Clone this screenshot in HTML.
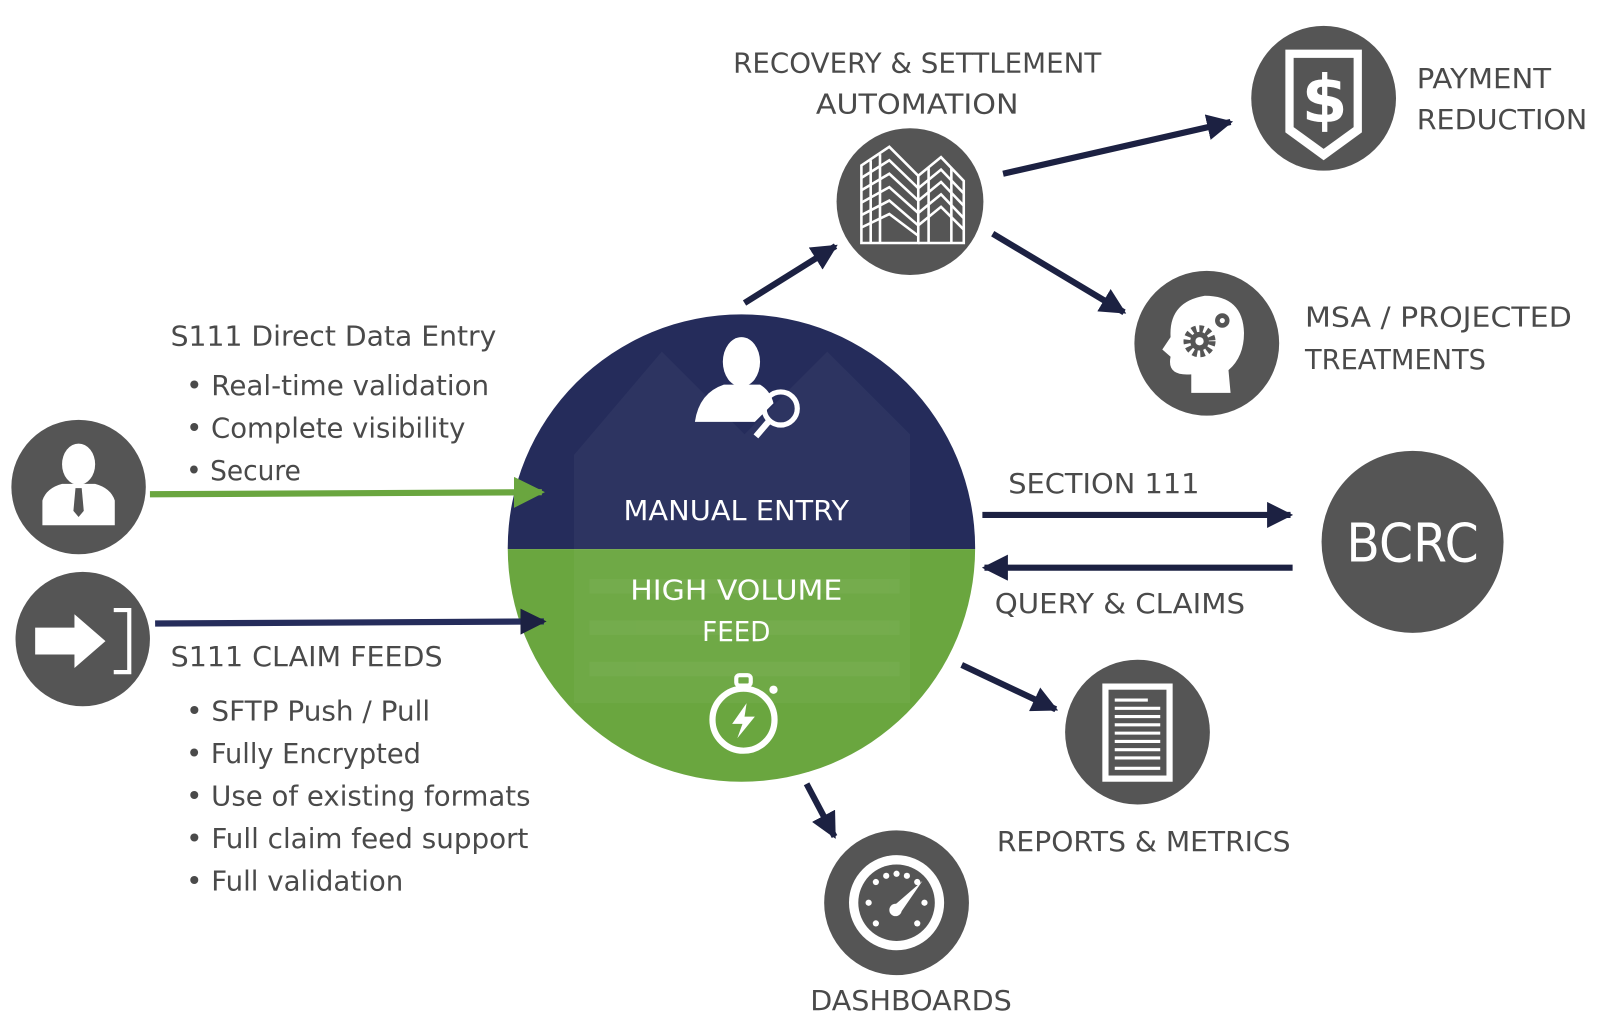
<!DOCTYPE html>
<html><head><meta charset="utf-8"><style>
html,body{margin:0;padding:0;background:#fff;}
svg{display:block}
text{font-family:"DejaVu Sans","Liberation Sans",sans-serif;fill:#4a4a4a}
</style></head><body>
<svg width="1608" height="1033" viewBox="0 0 1555 999" preserveAspectRatio="none" xmlns="http://www.w3.org/2000/svg">
<defs>
<marker id="ah" viewBox="0 0 10 10" refX="9" refY="5" markerWidth="4.2" markerHeight="4.2" orient="auto" markerUnits="strokeWidth"><path d="M0,0 L10,5 L0,10 Z" fill="#1c2142"/></marker>
<marker id="ag" viewBox="0 0 10 10" refX="9" refY="5" markerWidth="5" markerHeight="5" orient="auto" markerUnits="strokeWidth"><path d="M0,0 L10,5 L0,10 Z" fill="#6aa63f"/></marker>
<clipPath id="cc"><circle cx="717" cy="530" r="226"/></clipPath>
</defs>

<g clip-path="url(#cc)">
<rect x="480" y="300" width="480" height="231" fill="#252c5b"/>
<rect x="480" y="531" width="480" height="240" fill="#6aa63f"/>
<g fill="#ffffff" opacity="0.04">
<path d="M555,440 L640,340 L720,420 L800,340 L880,420 L880,680 L555,680 Z"/>
</g>
<g fill="#ffffff" opacity="0.04">
<rect x="570" y="560" width="300" height="14"/><rect x="570" y="600" width="300" height="14"/><rect x="570" y="640" width="300" height="14"/>
</g>
</g>
<text x="712" y="503" text-anchor="middle" font-size="27" style="fill:#fff" textLength="218" lengthAdjust="spacingAndGlyphs">MANUAL ENTRY</text>
<text x="712" y="580" text-anchor="middle" font-size="27" style="fill:#fff" textLength="205" lengthAdjust="spacingAndGlyphs">HIGH VOLUME</text>
<text x="712" y="620" text-anchor="middle" font-size="27" style="fill:#fff" textLength="66" lengthAdjust="spacingAndGlyphs">FEED</text>
<g fill="#fff">
<ellipse cx="717" cy="350" rx="18" ry="24"/>
<path d="M672,408 Q676,380 700,372 L735,372 Q745,378 748,390 L730,408 Z"/>
</g>
<circle cx="755" cy="395" r="16" fill="none" stroke="#fff" stroke-width="5"/>
<line x1="743" y1="408" x2="731" y2="422" stroke="#fff" stroke-width="6"/>
<circle cx="719" cy="696" r="30" fill="none" stroke="#fff" stroke-width="6"/>
<rect x="712" y="653" width="14" height="10" rx="3" fill="none" stroke="#fff" stroke-width="4"/>
<rect x="716" y="662" width="6" height="6" fill="#fff"/>
<circle cx="748" cy="667" r="4" fill="#fff"/>
<path d="M722,680 L708,700 L718,700 L713,714 L730,693 L720,693 Z" fill="#fff"/>

<circle cx="76" cy="471" r="65" fill="#555555"/>
<ellipse cx="76" cy="449" rx="16" ry="20" fill="#fff"/>
<path d="M41,508 L41,484 Q45,472 60,468 L92,468 Q107,472 111,484 L111,508 Z" fill="#fff"/>
<path d="M73,472 L79,472 L81,494 L76,500 L71,494 Z" fill="#555"/>
<circle cx="80" cy="618" r="65" fill="#555555"/>
<path d="M34,607 L72,607 L72,594 L102,620 L72,646 L72,633 L34,633 Z" fill="#fff"/>
<path d="M110,590 L125,590 L125,650 L110,650" fill="none" stroke="#fff" stroke-width="4"/>

<line x1="145" y1="478" x2="524" y2="476" stroke="#6aa63f" stroke-width="6" marker-end="url(#ag)"/>
<line x1="150" y1="603" x2="526" y2="601" stroke="#252c5b" stroke-width="6" style="marker-end:url(#ah)"/>

<text x="165" y="334" font-size="27" textLength="315" lengthAdjust="spacingAndGlyphs">S111 Direct Data Entry</text>
<text x="180" y="382" font-size="27" textLength="293" lengthAdjust="spacingAndGlyphs">• Real-time validation</text>
<text x="180" y="423" font-size="27" textLength="270" lengthAdjust="spacingAndGlyphs">• Complete visibility</text>
<text x="180" y="464" font-size="27" textLength="111" lengthAdjust="spacingAndGlyphs">• Secure</text>
<text x="165" y="644" font-size="27" textLength="263" lengthAdjust="spacingAndGlyphs">S111 CLAIM FEEDS</text>
<text x="180" y="697" font-size="27" textLength="236" lengthAdjust="spacingAndGlyphs">• SFTP Push / Pull</text>
<text x="180" y="738" font-size="27" textLength="227" lengthAdjust="spacingAndGlyphs">• Fully Encrypted</text>
<text x="180" y="779" font-size="27" textLength="333" lengthAdjust="spacingAndGlyphs">• Use of existing formats</text>
<text x="180" y="820" font-size="27" textLength="331" lengthAdjust="spacingAndGlyphs">• Full claim feed support</text>
<text x="180" y="861" font-size="27" textLength="210" lengthAdjust="spacingAndGlyphs">• Full validation</text>

<text x="887" y="70" text-anchor="middle" font-size="27" textLength="356" lengthAdjust="spacingAndGlyphs">RECOVERY &amp; SETTLEMENT</text>
<text x="887" y="110" text-anchor="middle" font-size="27" textLength="196" lengthAdjust="spacingAndGlyphs">AUTOMATION</text>
<circle cx="880" cy="195" r="71" fill="#555555"/>
<g fill="none" stroke="#fff" stroke-width="2.5">
<path d="M833,160 L860,142 L888,170 L888,235 L833,235 Z"/>
<path d="M888,170 L910,152 L932,175 L932,235 L888,235"/>
<path d="M833,172 L860,155 L888,182 M833,184 L860,168 L888,194 M833,196 L860,181 L888,206 M833,208 L860,194 L888,218 M833,220 L860,207 L888,228"/>
<path d="M888,182 L910,164 L932,187 M888,194 L910,176 L932,199 M888,206 L910,188 L932,211 M888,218 L910,200 L932,222"/>
<path d="M842,155 L842,235 M851,149 L851,235 M898,162 L898,235 M920,162 L920,235"/>
</g>
<circle cx="1280" cy="95" r="70" fill="#555555"/>
<path d="M1243,48 L1317,48 L1317,128 L1280,155 L1243,128 Z" fill="#fff"/>
<path d="M1251,56 L1309,56 L1309,123 L1280,144 L1251,123 Z" fill="#555"/>
<text x="1281" y="118" text-anchor="middle" font-size="64" font-weight="bold" style="fill:#fff">$</text>
<text x="1370" y="85" font-size="27" textLength="130" lengthAdjust="spacingAndGlyphs">PAYMENT</text>
<text x="1370" y="125" font-size="27" textLength="165" lengthAdjust="spacingAndGlyphs">REDUCTION</text>
<circle cx="1167" cy="332" r="70" fill="#555555"/>
<path d="M1152,380 L1152,362 Q1128,364 1132,345 L1124,338 L1132,326 Q1130,292 1165,286 Q1202,286 1203,322 Q1203,345 1188,358 L1190,380 Z" fill="#fff"/>
<circle cx="1160" cy="330" r="12" fill="none" stroke="#555" stroke-width="7" stroke-dasharray="4 3"/>
<circle cx="1160" cy="330" r="9" fill="#555"/><circle cx="1160" cy="330" r="4" fill="#fff"/>
<circle cx="1182" cy="310" r="7" fill="#555"/><circle cx="1182" cy="310" r="2.5" fill="#fff"/>
<text x="1262" y="316" font-size="27" textLength="258" lengthAdjust="spacingAndGlyphs">MSA / PROJECTED</text>
<text x="1262" y="357" font-size="27" textLength="175" lengthAdjust="spacingAndGlyphs">TREATMENTS</text>
<circle cx="1366" cy="524" r="88" fill="#555555"/>
<text x="1366" y="543" text-anchor="middle" font-size="52" style="fill:#fff" textLength="128" lengthAdjust="spacingAndGlyphs">BCRC</text>
<text x="975" y="477" font-size="27" textLength="185" lengthAdjust="spacingAndGlyphs">SECTION 111</text>
<text x="962" y="593" font-size="27" textLength="242" lengthAdjust="spacingAndGlyphs">QUERY &amp; CLAIMS</text>
<line x1="950" y1="498" x2="1248" y2="498" stroke="#1c2142" stroke-width="6" marker-end="url(#ah)"/>
<line x1="1250" y1="549" x2="952" y2="549" stroke="#1c2142" stroke-width="6" marker-end="url(#ah)"/>
<circle cx="1100" cy="708" r="70" fill="#555555"/>
<rect x="1066" y="661" width="68" height="95" fill="#fff"/>
<rect x="1072" y="667" width="56" height="83" fill="#555"/>
<g stroke="#fff" stroke-width="3"><path d="M1078,677 H1110 M1078,685 H1122 M1078,693 H1122 M1078,701 H1122 M1078,709 H1122 M1078,717 H1122 M1078,725 H1122 M1078,733 H1122 M1078,743 H1122"/></g>
<text x="1106" y="823" text-anchor="middle" font-size="27" textLength="284" lengthAdjust="spacingAndGlyphs">REPORTS &amp; METRICS</text>
<circle cx="867" cy="873" r="70" fill="#555555"/>
<circle cx="867" cy="873" r="46" fill="#fff"/>
<circle cx="867" cy="873" r="37" fill="#555"/>
<g fill="#fff"><circle cx="867" cy="845" r="3"/><circle cx="847" cy="853" r="3"/><circle cx="840" cy="873" r="3"/><circle cx="847" cy="893" r="3"/><circle cx="887" cy="853" r="3"/><circle cx="894" cy="873" r="3"/><circle cx="887" cy="893" r="3"/><circle cx="857" cy="847" r="3"/><circle cx="877" cy="847" r="3"/></g>
<path d="M862,878 L892,852 L870,884 Z" fill="#fff"/><circle cx="866" cy="880" r="6" fill="#fff"/>
<text x="881" y="977" text-anchor="middle" font-size="27" textLength="195" lengthAdjust="spacingAndGlyphs">DASHBOARDS</text>

<g stroke="#1c2142" stroke-width="6" fill="none">
<line x1="720" y1="293" x2="808" y2="238" marker-end="url(#ah)"/>
<line x1="970" y1="168" x2="1190" y2="118" marker-end="url(#ah)"/>
<line x1="960" y1="226" x2="1087" y2="302" marker-end="url(#ah)"/>
<line x1="930" y1="643" x2="1021" y2="686" marker-end="url(#ah)"/>
<line x1="780" y1="758" x2="807" y2="809" marker-end="url(#ah)"/>
</g>
</svg>
</body></html>
